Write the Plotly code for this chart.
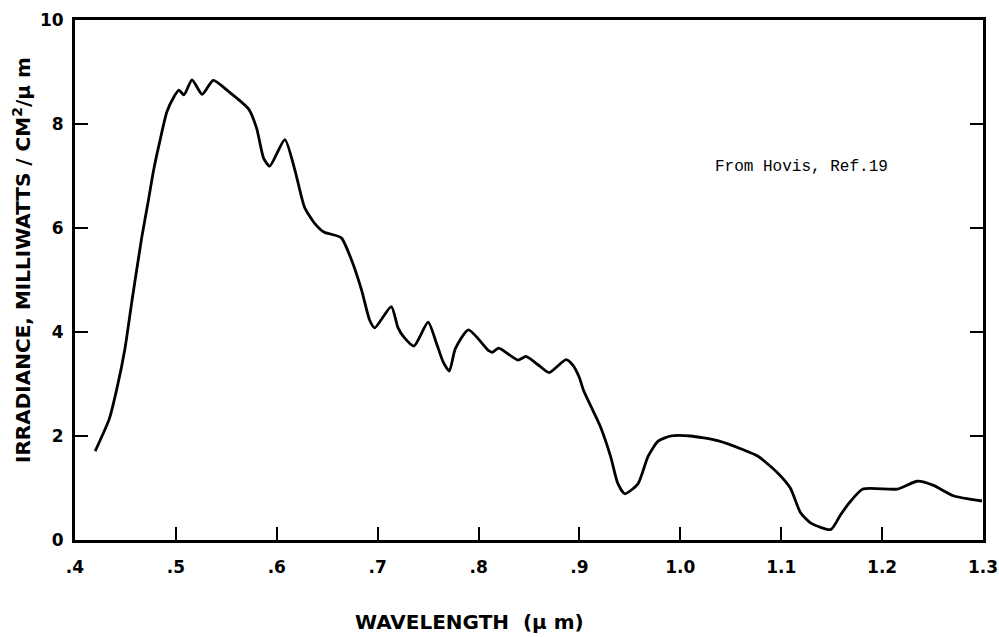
import plotly.graph_objects as go

# Spectral irradiance curve (wavelength in micrometres, mW / cm^2 / um)
wavelength = [0.420, 0.434, 0.4415, 0.4495, 0.4564, 0.466, 0.473, 0.478, 0.484, 0.491,
              0.498, 0.503, 0.508, 0.516, 0.526, 0.537, 0.552, 0.572, 0.580, 0.587,
              0.593, 0.608, 0.618, 0.6275, 0.6375, 0.647, 0.654, 0.664, 0.674, 0.684,
              0.692, 0.697, 0.7135, 0.720, 0.726, 0.736, 0.750, 0.758, 0.765, 0.771,
              0.777, 0.790, 0.810, 0.8135, 0.820, 0.839, 0.847, 0.859, 0.870, 0.8867,
              0.8936, 0.8998, 0.904, 0.921, 0.931, 0.938, 0.945, 0.958, 0.968, 0.978,
              0.9905, 1.010, 1.037, 1.063, 1.077, 1.096, 1.109, 1.119, 1.129, 1.149,
              1.159, 1.1685, 1.181, 1.215, 1.235, 1.251, 1.2705, 1.299]
irradiance = [1.71, 2.33, 2.91, 3.68, 4.59, 5.80, 6.56, 7.12, 7.66, 8.23,
              8.52, 8.65, 8.56, 8.85, 8.57, 8.84, 8.63, 8.29, 7.92, 7.34,
              7.19, 7.70, 7.11, 6.40, 6.09, 5.92, 5.88, 5.81, 5.39, 4.81,
              4.23, 4.08, 4.49, 4.09, 3.90, 3.73, 4.19, 3.80, 3.42, 3.25,
              3.68, 4.04, 3.64, 3.61, 3.69, 3.46, 3.53, 3.37, 3.22, 3.47,
              3.36, 3.13, 2.88, 2.17, 1.60, 1.09, 0.89, 1.08, 1.61, 1.90,
              2.00, 2.00, 1.91, 1.73, 1.61, 1.30, 1.00, 0.53, 0.33, 0.20,
              0.49, 0.74, 0.98, 0.98, 1.13, 1.05, 0.85, 0.75]

x_tickvals = [0.4, 0.5, 0.6, 0.7, 0.8, 0.9, 1.0, 1.1, 1.2, 1.3]
x_ticktext = [".4", ".5", ".6", ".7", ".8", ".9", "1.0", "1.1", "1.2", "1.3"]
y_tickvals = [0, 2, 4, 6, 8, 10]
y_ticktext = ["0", "2", "4", "6", "8", "10"]

label_font = dict(family="DejaVu Sans", size=17, color="black", weight="bold")
title_font = dict(family="DejaVu Sans", size=20, color="black", weight="bold")

fig = go.Figure()
fig.add_trace(go.Scatter(
    x=wavelength, y=irradiance, mode="lines",
    line=dict(color="black", width=2.8, shape="spline", smoothing=0.6),
    showlegend=False, hoverinfo="skip",
))

fig.update_layout(
    width=999, height=637,
    margin=dict(l=75, r=16, t=20, b=97),
    paper_bgcolor="white", plot_bgcolor="white",
    xaxis=dict(
        range=[0.4, 1.3], tickvals=x_tickvals, ticktext=x_ticktext,
        ticks="inside", ticklen=13, tickwidth=2, tickcolor="black",
        showline=True, linewidth=3, linecolor="black", mirror=True,
        showgrid=False, zeroline=False, tickfont=label_font,
        ticklabeloverflow="allow", ticklabelstandoff=10, automargin=False,
    ),
    yaxis=dict(
        range=[0, 10], tickvals=y_tickvals, ticktext=y_ticktext,
        ticks="inside", ticklen=13, tickwidth=2, tickcolor="black",
        showline=True, linewidth=3, linecolor="black", mirror="ticks",
        showgrid=False, zeroline=False, tickfont=label_font,
        ticklabelstandoff=5, ticklabeloverflow="allow", automargin=False,
    ),
)

fig.add_annotation(
    text="WAVELENGTH&nbsp;&nbsp;(μ m)", xref="paper", yref="paper",
    x=(469 - 75) / 908, y=-(622 - 540) / 520, showarrow=False,
    font=title_font, xanchor="center", yanchor="middle",
)
fig.add_annotation(
    text="IRRADIANCE, MILLIWATTS / CM<sup>2</sup>/μ m", xref="paper", yref="paper",
    x=-(75 - 22) / 908, y=(540 - 260) / 520, showarrow=False, textangle=-90,
    font=title_font, xanchor="center", yanchor="middle",
)
fig.add_annotation(
    text="From Hovis, Ref.19", xref="paper", yref="paper",
    x=(801 - 75) / 908, y=(540 - 167) / 520, showarrow=False,
    font=dict(family="Liberation Mono", size=16, color="black"),
    xanchor="center", yanchor="middle",
)

fig.write_html("out.html")
